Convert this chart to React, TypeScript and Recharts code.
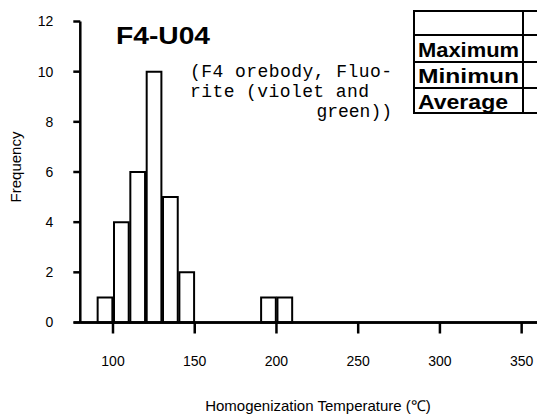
import { BarChart, Bar, XAxis, YAxis, ReferenceLine } from 'recharts'

// histogram bins (10 °C wide)
const binStarts = [90, 100, 110, 120, 130, 140, 150, 160, 170, 180, 190, 200]
const counts = [1, 4, 6, 10, 5, 2, 0, 0, 0, 0, 1, 1]
const binWidth = 10

const xTicks = [100, 150, 200, 250, 300, 350]
const yTicks = [0, 2, 4, 6, 8, 10, 12]

const title = 'F4-U04'
const noteLines = ['(F4 orebody, Fluo-', 'rite (violet and', 'green))']
const tableRows = ['Maximum', 'Minimun', 'Average']

const X_MIN = 80
const X_MAX = 360
const W = 540
const H = 414
const margin = { top: 21.5, right: 2, left: 0, bottom: 0 }
const yAxisW = 80.3
const xAxisH = 91.5
const plotW = W - margin.left - margin.right - yAxisW
const barSize = (plotW / (X_MAX - X_MIN)) * binWidth

const sans = 'Arial, "Liberation Sans", sans-serif'
const mono = '"Liberation Mono", "Courier New", monospace'

const data = binStarts.map((s, i) => ({ mid: s + binWidth / 2, count: counts[i] }))

export default function App() {
  return (
    <div style={{ position: 'fixed', left: 0, top: 0, width: 537, height: 414, overflow: 'hidden', background: '#fff' }}>
      <BarChart width={W} height={H} data={data} margin={margin} barCategoryGap={0} barGap={0}>
        <XAxis
          type="number"
          dataKey="mid"
          domain={[X_MIN, X_MAX]}
          ticks={xTicks}
          allowDataOverflow
          height={xAxisH}
          tickSize={11}
          tickMargin={23}
          axisLine={{ stroke: '#000', strokeWidth: 2.5 }}
          tickLine={{ stroke: '#000', strokeWidth: 2.5 }}
          tick={{ fill: '#000', fontSize: 14, fontFamily: sans }}
        />
        <YAxis
          domain={[0, 12]}
          ticks={yTicks}
          width={yAxisW}
          tickSize={7}
          tickMargin={20}
          axisLine={{ stroke: '#000', strokeWidth: 2.5 }}
          tickLine={{ stroke: '#000', strokeWidth: 2.5 }}
          tick={{ fill: '#000', fontSize: 14, fontFamily: sans }}
        />
        <ReferenceLine
          segment={[{ x: 76, y: 0 }, { x: X_MAX, y: 0 }]}
          stroke="#000"
          strokeWidth={2.5}
          ifOverflow="visible"
        />
        <Bar dataKey="count" fill="#fff" stroke="#000" strokeWidth={2} barSize={barSize} isAnimationActive={false} />
      </BarChart>

      <svg width={537} height={414} style={{ position: 'absolute', left: 0, top: 0, pointerEvents: 'none' }}>
        <text x={116} y={44} fontFamily={sans} fontWeight="bold" fontSize={24} textLength={94} lengthAdjust="spacingAndGlyphs">
          {title}
        </text>

        <text x={190} y={77} fontFamily={mono} fontSize={18} textLength={202} lengthAdjust="spacing">{noteLines[0]}</text>
        <text x={190} y={97} fontFamily={mono} fontSize={18} textLength={179} lengthAdjust="spacing">{noteLines[1]}</text>
        <text x={392} y={117} fontFamily={mono} fontSize={18} textAnchor="end">{noteLines[2]}</text>

        {/* stats table, cut off at the right edge */}
        <g stroke="#000" strokeWidth={2} fill="none">
          <rect x={414} y={11} width={160} height={102} />
          <line x1={414} y1={35} x2={560} y2={35} />
          <line x1={414} y1={62} x2={560} y2={62} />
          <line x1={414} y1={88} x2={560} y2={88} />
          <line x1={523} y1={11} x2={523} y2={113} />
        </g>
        {tableRows.map((r, i) => (
          <text key={r} x={418} y={57 + i * 26} fontFamily={sans} fontWeight="bold" fontSize={21} textLength={r === 'Average' ? 90 : 101} lengthAdjust="spacingAndGlyphs">
            {r}
          </text>
        ))}

        <text x={15} y={167} fontFamily={sans} fontSize={15} textAnchor="middle" dominantBaseline="central" transform="rotate(-90 15 167)">
          Frequency
        </text>
        <text x={318} y={411} fontFamily={sans} fontSize={15} textAnchor="middle">
          Homogenization Temperature (℃)
        </text>
      </svg>
    </div>
  )
}
